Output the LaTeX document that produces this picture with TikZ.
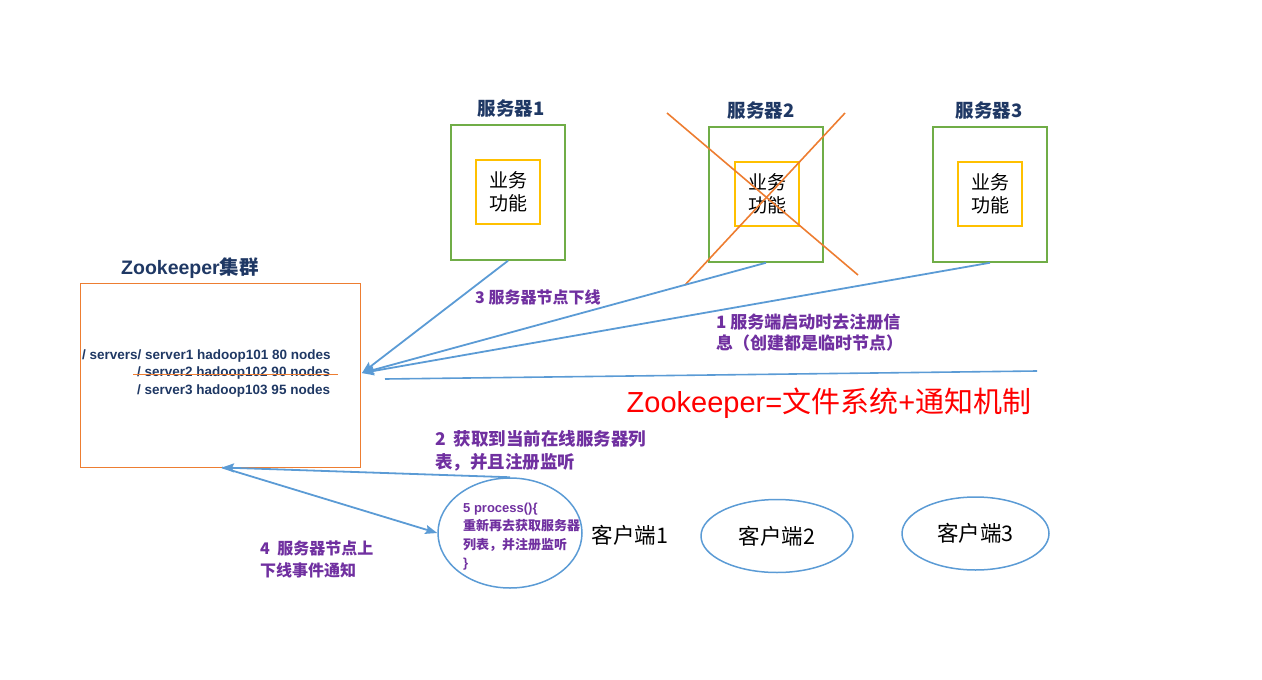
\documentclass[tikz,border=0pt]{standalone}
\usepackage{fontspec}
\setmainfont{Noto Sans CJK SC}
\newfontfamily\latin{Liberation Sans}
\usetikzlibrary{arrows.meta,shapes.geometric}

\definecolor{linkblue}{HTML}{5B9BD5}
\definecolor{srvgreen}{HTML}{70AD47}
\definecolor{funcyellow}{HTML}{FFC000}
\definecolor{crossorange}{HTML}{ED7D31}
\definecolor{titlenavy}{HTML}{1F3864}
\definecolor{notepurple}{HTML}{7030A0}

\begin{document}
\begin{tikzpicture}[x=1pt, y=-1pt,
  server/.style={draw=srvgreen, line width=1.5pt, minimum width=114pt, minimum height=135pt, inner sep=0},
  func/.style={draw=funcyellow, line width=1.5pt, minimum size=64pt, inner sep=0, align=center,
    font=\fontsize{19}{23}\selectfont},
  title/.style={inner sep=0, text=titlenavy, font=\fontsize{18.5}{20}\selectfont\bfseries},
  note/.style={inner sep=0, anchor=west, align=left, text=notepurple, font=\fontsize{16}{22}\selectfont\bfseries},
  path/.style={inner sep=0, anchor=west, text=titlenavy, font=\latin\fontsize{13.5}{16}\selectfont\bfseries},
  link/.style={draw=linkblue, line width=1.8pt, -{Stealth[length=12pt,width=9pt,inset=2pt]}},
  client/.style={ellipse, draw=linkblue, line width=1.5pt, inner sep=0, font=\fontsize{21.5}{24}\selectfont}]

  \useasboundingbox (0,0) rectangle (1262,680);

  % Servers
  \node[server] (s1) at (508,192.5) {};
  \node[server] (s2) at (766,194.5) {};
  \node[server] (s3) at (990,194.5) {};
  \node[func] (f1) at (508,192) {业务\\功能};
  \node[func] (f2) at (767,194) {业务\\功能};
  \node[func] (f3) at (990,194) {业务\\功能};
  \node[title] (t1) at (511,108) {服务器1};
  \node[title] (t2) at (761,110) {服务器2};
  \node[title] (t3) at (989,110) {服务器3};

  % Server 2 is down
  \draw[crossorange, line width=1.6pt] (667,113) -- (858,275);
  \draw[crossorange, line width=1.6pt] (845,113) -- (685,285);

  % Zookeeper cluster
  \node[draw=crossorange, line width=1pt, minimum width=280pt, minimum height=184pt, inner sep=0] (zk) at (220,375) {};
  \node[inner sep=0, text=titlenavy, font=\fontsize{19.5}{22}\selectfont\bfseries] (zkt) at (190,268) {{\latin Zookeeper}集群};
  \node[path] (l1) at (82,356) {/ servers/ server1 hadoop101 80 nodes};
  \node[path] (l2) at (137,373.5) {/ server2 hadoop102 90 nodes};
  \node[path] (l3) at (137,391) {/ server3 hadoop103 95 nodes};
  \draw[crossorange, line width=1.6pt] ([xshift=-4pt,yshift=-1pt]l2.west) -- ([xshift=8pt,yshift=-1pt]l2.east);

  % Clients
  \node[client, minimum width=144pt, minimum height=110pt] (c1) at (510,533) {};
  \node[inner sep=0, anchor=west, align=left, text=notepurple,
    font=\fontsize{13}{18.3}\selectfont\bfseries] (c1txt) at (463,536.5)
    {{\latin 5 process()\{}\\重新再去获取服务器\\列表，并注册监听\\{\latin\}}};
  \node[inner sep=0, font=\fontsize{21.5}{24}\selectfont] (c1name) at (630,535) {客户端1};
  \node[client, minimum width=152pt, minimum height=73pt] (c2) at (777,536) {客户端2};
  \node[client, minimum width=147pt, minimum height=73pt] (c3) at (975.5,533.5) {客户端3};

  % Connectors
  \coordinate (zkin) at (362,373);
  \draw[link] (s1.south) -- (zkin);
  \draw[link] (s2.south) -- (zkin);
  \draw[link] (s3.south) -- (zkin);
  \coordinate (sepl) at (385,379);
  \coordinate (sepr) at (1037,371);
  \draw[draw=linkblue, line width=1.6pt] (sepl) -- (sepr);
  \draw[link] (c1.north) -- ([xshift=2pt]zk.south);
  \draw[link] ([xshift=2pt]zk.south) -- (c1.west);

  % Notes
  \node[note] (n3) at (475,297) {3 服务器节点下线};
  \node[note, font=\fontsize{17}{21}\selectfont\bfseries] (n1) at (716,332.5) {1 服务端启动时去注册信\\息（创建都是临时节点）};
  \node[note, font=\fontsize{17.5}{23}\selectfont\bfseries] (n2) at (435,450.5) {2\ \ 获取到当前在线服务器列\\表，并且注册监听};
  \node[note] (n4) at (260,559) {4\ \ 服务器节点上\\下线事件通知};
  \node[inner sep=0, text=red, font=\fontsize{29}{32}\selectfont] (eq) at (829,403) {{\latin Zookeeper=}文件系统{\latin +}通知机制};

\end{tikzpicture}
\end{document}
